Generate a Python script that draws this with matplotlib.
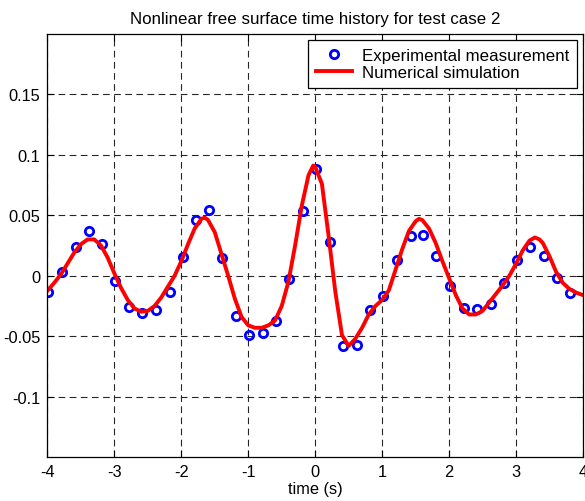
import numpy as np
import matplotlib.pyplot as plt

plt.rcParams['font.family'] = ['Liberation Sans', 'DejaVu Sans']

# experimental measurement (time s, elevation)
t_exp = [-3.985, -3.785, -3.58, -3.38, -3.18, -2.985, -2.78, -2.58, -2.38, -2.17,
         -1.98, -1.78, -1.587, -1.39, -1.19, -0.985, -0.785, -0.582, -0.388, -0.18,
         0.01, 0.22, 0.418, 0.618, 0.816, 1.015, 1.224, 1.428, 1.61, 1.81,
         2.01, 2.224, 2.418, 2.627, 2.82, 3.02, 3.215, 3.41, 3.612, 3.81]
eta_exp = [-0.0137, 0.0033, 0.024, 0.0366, 0.026, -0.0046, -0.026, -0.031, -0.0285, -0.0137,
           0.0157, 0.046, 0.054, 0.0148, -0.0335, -0.0486, -0.047, -0.037, -0.0025, 0.0533,
           0.0885, 0.028, -0.0577, -0.057, -0.0285, -0.0165, 0.0127, 0.0325, 0.034, 0.016,
           -0.0087, -0.0266, -0.0277, -0.0233, -0.006, 0.0127, 0.024, 0.016, -0.0021, -0.0143]

# numerical simulation
t_num = [-4.0, -3.9, -3.8, -3.7, -3.6, -3.5, -3.4, -3.3, -3.2, -3.1,
         -3.0, -2.9, -2.8, -2.7, -2.6, -2.5, -2.4, -2.3, -2.2, -2.1,
         -2.0, -1.9, -1.8, -1.7, -1.65, -1.6, -1.5, -1.4, -1.3, -1.2,
         -1.1, -1.0, -0.9, -0.8, -0.7, -0.6, -0.5, -0.4, -0.3, -0.2,
         -0.1, -0.03, 0.0, 0.1, 0.2, 0.3, 0.4, 0.5, 0.6, 0.7,
         0.8, 0.9, 1.0, 1.1, 1.2, 1.3, 1.4, 1.5, 1.55, 1.6,
         1.7, 1.8, 1.9, 2.0, 2.1, 2.2, 2.3, 2.4, 2.5, 2.6,
         2.7, 2.8, 2.9, 3.0, 3.1, 3.2, 3.28, 3.35, 3.4, 3.5,
         3.6, 3.7, 3.8, 3.9, 4.0]
eta_num = [-0.0124, -0.006, 0.001, 0.010, 0.019, 0.026, 0.030, 0.030, 0.025, 0.015,
           0.002, -0.010, -0.020, -0.027, -0.0297, -0.029, -0.025, -0.018, -0.009, 0.000,
           0.012, 0.026, 0.039, 0.047, 0.048, 0.046, 0.036, 0.018, 0.000, -0.019,
           -0.034, -0.041, -0.043, -0.043, -0.041, -0.037, -0.025, -0.005, 0.025, 0.058,
           0.083, 0.091, 0.090, 0.076, 0.033, -0.013, -0.049, -0.058, -0.052, -0.043,
           -0.032, -0.025, -0.020, -0.012, 0.005, 0.022, 0.037, 0.045, 0.047, 0.046,
           0.039, 0.027, 0.012, -0.002, -0.016, -0.027, -0.032, -0.032, -0.029, -0.022,
           -0.015, -0.008, 0.000, 0.010, 0.021, 0.029, 0.0316, 0.030, 0.027, 0.016,
           0.003, -0.006, -0.011, -0.014, -0.016]

xticks = [-4, -3, -2, -1, 0, 1, 2, 3, 4]
yticks = [-0.1, -0.05, 0, 0.05, 0.1, 0.15]
ytick_labels = ['-0.1', '-0.05', '0', '0.05', '0.1', '0.15']

fig = plt.figure(figsize=(5.85, 5.02), dpi=100)
ax = fig.add_axes([0.081, 0.087, 0.9156, 0.844])

ax.plot(t_exp, eta_exp, 'o', color='blue', mfc='none', mec='blue', ms=6, mew=2,
        label='Experimental measurement')
ax.plot(t_num, eta_num, '-', color='red', lw=2.8, label='Numerical simulation')

ax.set_xlim(-4, 4)
ax.set_ylim(-0.15, 0.2)
ax.set_xticks(xticks)
ax.set_xticklabels([str(v) for v in xticks])
ax.set_yticks(yticks)
ax.set_yticklabels(ytick_labels)
ax.tick_params(direction='in', length=5, width=0.8, top=True, right=True,
               labelsize=11.8, colors='black', pad=5)
ax.grid(True, color='0.15', linestyle=(0, (6, 4)), linewidth=0.8)
for s in ax.spines.values():
    s.set_linewidth(0.9)
    s.set_color('black')

ax.set_title('Nonlinear free surface time history for test case 2', fontsize=12.2, pad=8)
ax.set_xlabel('time (s)', fontsize=11.8, labelpad=1)

leg = ax.legend(loc='upper right', fontsize=12.2, fancybox=False, framealpha=1,
                edgecolor='black', borderpad=0.45, labelspacing=0.15, handlelength=2.1,
                handletextpad=0.6, borderaxespad=0.38, numpoints=1)
leg.get_frame().set_linewidth(0.9)

fig.savefig('out.png', dpi=100)
